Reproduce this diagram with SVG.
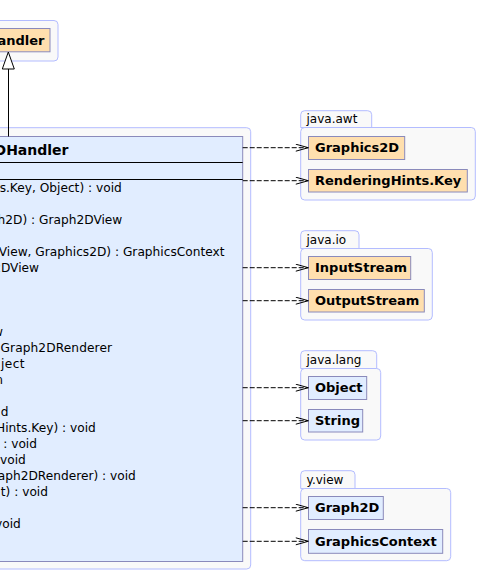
<svg xmlns="http://www.w3.org/2000/svg" width="478" height="572" viewBox="0 0 478 572">
<style>
.pkg{fill:#f9f9f9;stroke:#b3bcff;stroke-width:1}
.cp{fill:#ffdfae;stroke:#8a8abb;stroke-width:1}
.cb{fill:#e1edff;stroke:#8a8abb;stroke-width:1}
.sep{stroke:#000;stroke-width:1}
.pl{font-family:"DejaVu Sans",sans-serif;font-size:12px;fill:#000}
.cn{font-family:"DejaVu Sans",sans-serif;font-size:13px;font-weight:bold;fill:#000}
.hd{font-family:"DejaVu Sans",sans-serif;font-size:14px;font-weight:bold;fill:#000}
.mb{font-family:"DejaVu Sans",sans-serif;font-size:12.2px;fill:#000;text-anchor:end}
.dep{stroke:#000;stroke-width:1;fill:none;stroke-dasharray:5,2;marker-end:url(#open)}
</style>
<defs>
<marker id="open" markerUnits="userSpaceOnUse" markerWidth="14" markerHeight="10" refX="13" refY="4" orient="auto">
<path d="M0.5,0.5 L13,4 L0.5,7.5" fill="none" stroke="#000" stroke-width="1"/>
</marker>
</defs>

<g id="pkg-top">
<rect class="pkg" x="-20" y="20.5" width="78" height="40.5" rx="4"/>
<g id="class-top">
<rect class="cp" x="-20" y="28.5" width="70" height="23.3"/>
<text class="cn" x="44.5" y="45" text-anchor="end">andler</text>
</g>
</g>

<g id="pkg-main">
<rect class="pkg" x="-20" y="127.7" width="270.7" height="441.3" rx="4"/>
<g id="class-main">
<rect class="cb" x="-20" y="136.5" width="262.7" height="425"/>
<line class="sep" x1="-20" y1="162.5" x2="242.7" y2="162.5"/>
<line class="sep" x1="-20" y1="179.5" x2="242.7" y2="179.5"/>
<text class="hd" x="68.5" y="155" text-anchor="end">DHandler</text>
<text class="mb" x="121.8" y="192">s.Key, Object) : void</text>
<text class="mb" x="122.3" y="224">h2D) : Graph2DView</text>
<text class="mb" x="224.5" y="256">View, Graphics2D) : GraphicsContext</text>
<text class="mb" x="39" y="272">2DView</text>
<text class="mb" x="3" y="336">w</text>
<text class="mb" x="112" y="352" textLength="111.5" lengthAdjust="spacing">Graph2DRenderer</text>
<text class="mb" x="24.5" y="368" textLength="23.5" lengthAdjust="spacing">ject</text>
<text class="mb" x="3" y="384">n</text>
<text class="mb" x="8.5" y="416">d</text>
<text class="mb" x="95.8" y="432">Hints.Key) : void</text>
<text class="mb" x="37" y="448">: void</text>
<text class="mb" x="25.8" y="464">void</text>
<text class="mb" x="135.8" y="480">aph2DRenderer) : void</text>
<text class="mb" x="48" y="496">t) : void</text>
<text class="mb" x="20.8" y="528">void</text>
</g>
</g>

<g id="pkg-java-awt">
<path class="pkg" d="M300.7,127.5 V114.7 Q300.7,110.7 304.7,110.7 H367.7 Q371.7,110.7 371.7,114.7 V127.5 Z"/>
<rect class="pkg" x="300.7" y="127.5" width="174.6" height="72.5" rx="4"/>
<text class="pl" x="306.5" y="123">java.awt</text>
<g id="class-Graphics2D">
<rect class="cp" x="308.5" y="136.5" width="96.2" height="23"/>
<text class="cn" x="315" y="152">Graphics2D</text>
</g>
<g id="class-RenderingHints-Key">
<rect class="cp" x="308.5" y="169.5" width="158.8" height="22.5"/>
<text class="cn" x="315" y="185">RenderingHints.Key</text>
</g>
</g>

<g id="pkg-java-io">
<path class="pkg" d="M300.7,248.5 V234.7 Q300.7,230.7 304.7,230.7 H355 Q359,230.7 359,234.7 V248.5 Z"/>
<rect class="pkg" x="300.7" y="248.5" width="131.6" height="71.5" rx="4"/>
<text class="pl" x="306.5" y="243.5">java.io</text>
<g id="class-InputStream">
<rect class="cp" x="308.5" y="256.5" width="102.2" height="23"/>
<text class="cn" x="315" y="272">InputStream</text>
</g>
<g id="class-OutputStream">
<rect class="cp" x="308.5" y="289.5" width="115.8" height="22.5"/>
<text class="cn" x="315" y="305">OutputStream</text>
</g>
</g>

<g id="pkg-java-lang">
<path class="pkg" d="M300.7,368.5 V354.7 Q300.7,350.7 304.7,350.7 H372.7 Q376.7,350.7 376.7,354.7 V368.5 Z"/>
<rect class="pkg" x="300.7" y="368.5" width="80" height="71.5" rx="4"/>
<text class="pl" x="306.5" y="363.5">java.lang</text>
<g id="class-Object">
<rect class="cb" x="308.5" y="376.5" width="58.2" height="23"/>
<text class="cn" x="315" y="392">Object</text>
</g>
<g id="class-String">
<rect class="cb" x="308.5" y="409.5" width="54.2" height="22.5"/>
<text class="cn" x="315" y="425">String</text>
</g>
</g>

<g id="pkg-y-view">
<path class="pkg" d="M300.7,488.5 V474.7 Q300.7,470.7 304.7,470.7 H351 Q355,470.7 355,474.7 V488.5 Z"/>
<rect class="pkg" x="300.7" y="488.5" width="150" height="72.2" rx="4"/>
<text class="pl" x="306.5" y="483.5">y.view</text>
<g id="class-Graph2D">
<rect class="cb" x="308.5" y="496.5" width="74.8" height="23"/>
<text class="cn" x="315" y="512">Graph2D</text>
</g>
<g id="class-GraphicsContext">
<rect class="cb" x="308.5" y="529.5" width="134.2" height="23.8"/>
<text class="cn" x="315" y="545.5">GraphicsContext</text>
</g>
</g>

<g id="connectors">
<line x1="8.5" y1="69" x2="8.5" y2="136.5" stroke="#000" stroke-width="1"/>
<polygon points="8.3,52 2.3,69 14.3,69" fill="#fff" stroke="#000" stroke-width="1"/>
<line class="dep" x1="242.7" y1="147.7" x2="308.3" y2="147.7"/>
<line class="dep" x1="242.7" y1="180.7" x2="308.3" y2="180.7"/>
<line class="dep" x1="242.7" y1="267.7" x2="308.3" y2="267.7"/>
<line class="dep" x1="242.7" y1="300.7" x2="308.3" y2="300.7"/>
<line class="dep" x1="242.7" y1="387.7" x2="308.3" y2="387.7"/>
<line class="dep" x1="242.7" y1="420.7" x2="308.3" y2="420.7"/>
<line class="dep" x1="242.7" y1="507.7" x2="308.3" y2="507.7"/>
<line class="dep" x1="242.7" y1="541.3" x2="308.3" y2="541.3"/>
</g>
</svg>
